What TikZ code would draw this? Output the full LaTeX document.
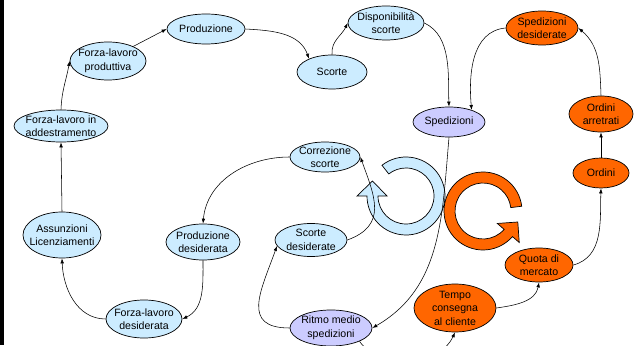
\documentclass[tikz,border=0pt]{standalone}
\usepackage{fontspec}
\setmainfont{Liberation Sans}
\usetikzlibrary{arrows.meta,shapes.geometric}
\definecolor{nodeblue}{RGB}{204,236,255}
\definecolor{nodeviolet}{RGB}{204,204,255}
\definecolor{nodeorange}{RGB}{255,102,0}

\begin{document}
\begin{tikzpicture}[x=1pt,y=1pt,
  lbl/.style={align=center, inner sep=0pt, font=\fontsize{10.6}{13.5}\selectfont},
  var/.style={ellipse, draw=black, line width=0.7pt, inner sep=0pt},
  varblue/.style={var, fill=nodeblue},
  varviolet/.style={var, fill=nodeviolet},
  varorange/.style={var, fill=nodeorange},
  link/.style={-{Latex[length=5pt,width=3.6pt]}, line width=0.55pt},
  ring/.style={draw=black, line width=0.7pt},
]
\useasboundingbox (0,0) rectangle (636,345);
\clip (0,0) rectangle (636,345);
\fill[white] (0,0) rectangle (636,345);
\fill[black] (0,0) rectangle (4,345);

% loop symbols
\begin{scope}[shift={(406,149)}]
  \draw[ring, fill=nodeblue] (128:39) arc[start angle=128, end angle=-180, radius=39]
    -- (180:49) -- (-33.5,15) -- (180:19) -- (180:28)
    arc[start angle=-180, end angle=128, radius=28] -- cycle;
\end{scope}
\begin{scope}[shift={(483,134)}]
  \draw[ring, fill=nodeorange] (7:39) arc[start angle=7, end angle=319, radius=39]
    -- (319:48) -- (34.8,-11) -- (319:19) -- (319:28)
    arc[start angle=319, end angle=7, radius=28] -- cycle;
\end{scope}

% variables
\node[varblue, minimum width=78, minimum height=30, label={[lbl]center:Produzione}] (prod) at (206,316) {};
\node[varblue, minimum width=76, minimum height=38, label={[lbl]center:Forza-lavoro\\produttiva}] (flprod) at (108,284) {};
\node[varblue, minimum width=94, minimum height=32, label={[lbl]center:Forza-lavoro in\\addestramento}] (fladd) at (61,219) {};
\node[varblue, minimum width=70, minimum height=34, label={[lbl]center:Scorte}] (scorte) at (332,273) {};
\node[varblue, minimum width=76, minimum height=34, label={[lbl]center:Disponibilità\\scorte}] (disp) at (386,322) {};
\node[varorange, minimum width=72, minimum height=34, label={[lbl]center:Spedizioni\\desiderate}] (spdes) at (542,317) {};
\node[varviolet, minimum width=72, minimum height=30, label={[lbl]center:Spedizioni}] (sped) at (449,223) {};
\node[varorange, minimum width=64, minimum height=36, label={[lbl]center:Ordini\\arretrati}] (ordarr) at (601,231) {};
\node[varorange, minimum width=56, minimum height=30, label={[lbl]center:Ordini}] (ordini) at (601,172) {};
\node[varorange, minimum width=68, minimum height=34, label={[lbl]center:Quota di\\mercato}] (quota) at (539,80) {};
\node[varorange, minimum width=82, minimum height=48, label={[lbl]center:Tempo\\consegna\\al cliente}] (tempo) at (455,37) {};
\node[varviolet, minimum width=82, minimum height=36, label={[lbl]center:Ritmo medio\\spedizioni}] (ritmo) at (331,17) {};
\node[varblue, minimum width=72, minimum height=33, label={[lbl]center:Scorte\\desiderate}] (scdes) at (311,105) {};
\node[varblue, minimum width=70, minimum height=30, label={[lbl]center:Correzione\\scorte}] (corr) at (325,188) {};
\node[varblue, minimum width=74, minimum height=36, label={[lbl]center:Produzione\\desiderata}] (proddes) at (203,103) {};
\node[varblue, minimum width=76, minimum height=38, label={[lbl]center:Forza-lavoro\\desiderata}] (fldes) at (144,26) {};
\node[varblue, minimum width=78, minimum height=46, label={[lbl]center:Assunzioni\\Licenziamenti}] (assu) at (62,110) {};

% causal links
\draw[link] (fladd.north) to[out=88, in=-100] (flprod.west);
\draw[link] (flprod.30) -- (prod.west);
\draw[link] (prod.east) to[out=-3, in=110] (scorte.150);
\draw[link] (scorte.north) to[out=95, in=-115] (disp.west);
\draw[link] (disp.east) to[out=-25, in=92, looseness=0.9] (sped.north);
\draw[link] (spdes.west) to[out=185, in=95] (sped.28);
\draw[link] (ordarr.north) to[out=92, in=-40] (spdes.east);
\draw[link] (ordini.north) -- (ordarr.south);
\draw[link] (quota.east) to[out=15, in=-92] (ordini.south);
\draw[link] (tempo.east) to[out=8, in=-100] (quota.south);
\draw[link] (ritmo.-25) to[out=-55, in=-115] (tempo.south);
\draw[link] (sped.south) to[out=-95, in=30] (ritmo.east);
\draw[link] (ritmo.west) to[out=180, in=-110, looseness=1.5] (scdes.190);
\draw[link] (scdes.east) to[out=20, in=-70, looseness=1.3] (corr.east);
\draw[link] (corr.west) to[out=180, in=85] (proddes.north);
\draw[link] (proddes.south) to[out=-90, in=25] (fldes.east);
\draw[link] (fldes.west) to[out=180, in=-88] (assu.south);
\draw[link] (assu.north) -- (fladd.south);
\end{tikzpicture}
\end{document}
